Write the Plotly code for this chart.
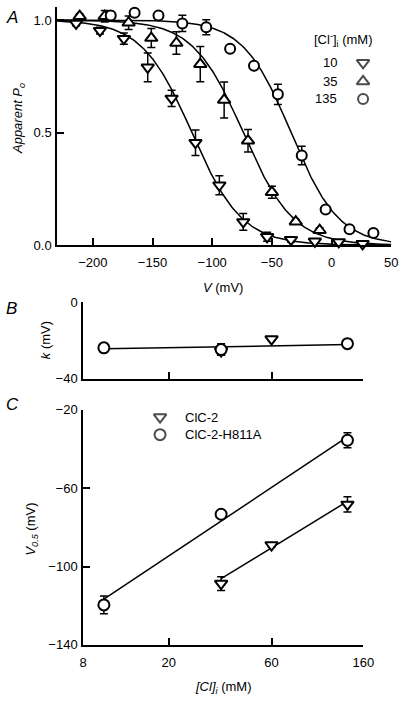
import numpy as np
import plotly.graph_objects as go

# ---------------- data ----------------
# Panel A: apparent Po vs V for three [Cl-]i
V_10 = [-214, -194, -174, -154, -134, -114, -94, -74, -54, -34, -14, 6, 26]
PO_10 = [0.985, 0.953, 0.917, 0.79, 0.652, 0.455, 0.266, 0.103, 0.037, 0.024, 0.017, 0.014, 0.006]
ERR_10 = [0.01, 0.015, 0.025, 0.064, 0.036, 0.057, 0.042, 0.037, 0.02, 0.01, 0.008, 0.008, 0.005]

V_35 = [-211, -190, -170, -151, -130, -110, -90, -70, -50, -30, -10]
PO_35 = [1.017, 1.017, 0.988, 0.92, 0.898, 0.804, 0.645, 0.464, 0.235, 0.104, 0.066]
ERR_35 = [0.01, 0.026, 0.03, 0.042, 0.05, 0.078, 0.08, 0.05, 0.027, 0.01, 0.01]

V_135 = [-185, -165, -145, -125, -105, -85, -65, -45, -25, -5, 15, 35]
PO_135 = [1.02, 1.032, 1.02, 0.985, 0.968, 0.872, 0.797, 0.67, 0.398, 0.158, 0.07, 0.054]
ERR_135 = [0, 0, 0, 0.036, 0.033, 0, 0, 0.045, 0.041, 0, 0, 0]

# Boltzmann fit parameters for the three curves (10, 35, 135 mM)
FIT_V05 = [-117, -74, -34]
FIT_SLOPE = [21, 21, 20]
CL_LABELS = ["10", "35", "135"]

# Panel B: slope factor k
B_CL_WT = [35, 60]
B_K_WT = [-25.5, -19.2]
B_KERR_WT = [2.0, 0.8]
B_CL_MUT = [10, 35, 135]
B_K_MUT = [-23.8, -24.7, -21.6]
B_KERR_MUT = [2.3, 3.0, 1.5]
B_FIT_X = [10, 135]
B_FIT_Y = [-24.3, -22.1]

# Panel C: V0.5
C_CL_WT = [35, 60, 135]
C_V_WT = [-108.7, -89.0, -68.3]
C_VERR_WT = [3.5, 1.0, 3.9]
C_CL_MUT = [10, 35, 135]
C_V_MUT = [-119.6, -73.3, -35.5]
C_VERR_MUT = [4.5, 0, 3.8]
C_FIT_WT_X = [35, 135]
C_FIT_WT_Y = [-106.2, -66.7]
C_FIT_MUT_X = [10, 135]
C_FIT_MUT_Y = [-116.7, -33.8]

LEGEND_C = ["ClC-2", "ClC-2-H811A"]

# ---------------- layout helpers ----------------
W, H = 410, 704
FONT = "Arial, Liberation Sans, sans-serif"


def px(x):
    return x / W


def py(y):
    return 1 - y / H


fig = go.Figure()

mk_line = dict(color="black", width=2)
eb = dict(type="data", color="black", thickness=1.5, width=4)

# ---- Panel A ----
vgrid = np.linspace(-230, 50, 300)
for v05, s in zip(FIT_V05, FIT_SLOPE):
    po = 1.0 / (1.0 + np.exp((vgrid - v05) / s))
    fig.add_trace(go.Scatter(x=vgrid, y=po, mode="lines", line=dict(color="black", width=1.5),
                             xaxis="x", yaxis="y", showlegend=False, hoverinfo="skip"))

for V, P, E, sym, sz in [(V_10, PO_10, ERR_10, "triangle-down", 11),
                         (V_35, PO_35, ERR_35, "triangle-up", 11),
                         (V_135, PO_135, ERR_135, "circle", 10)]:
    fig.add_trace(go.Scatter(x=V, y=P, mode="markers", error_y=dict(array=E, **eb),
                             marker=dict(symbol=sym, size=sz, color="white", line=mk_line),
                             xaxis="x", yaxis="y", showlegend=False, cliponaxis=False))

# ---- Panel B ----
fig.add_trace(go.Scatter(x=B_FIT_X, y=B_FIT_Y, mode="lines", line=dict(color="black", width=1.5),
                         xaxis="x2", yaxis="y2", showlegend=False))
fig.add_trace(go.Scatter(x=B_CL_WT, y=B_K_WT, mode="markers", error_y=dict(array=B_KERR_WT, **eb),
                         marker=dict(symbol="triangle-down", size=11, color="white", line=mk_line),
                         xaxis="x2", yaxis="y2", showlegend=False, cliponaxis=False))
fig.add_trace(go.Scatter(x=B_CL_MUT, y=B_K_MUT, mode="markers", error_y=dict(array=B_KERR_MUT, **eb),
                         marker=dict(symbol="circle", size=11, color="white", line=mk_line),
                         xaxis="x2", yaxis="y2", showlegend=False, cliponaxis=False))

# ---- Panel C ----
fig.add_trace(go.Scatter(x=C_FIT_MUT_X, y=C_FIT_MUT_Y, mode="lines", line=dict(color="black", width=1.5),
                         xaxis="x3", yaxis="y3", showlegend=False))
fig.add_trace(go.Scatter(x=C_FIT_WT_X, y=C_FIT_WT_Y, mode="lines", line=dict(color="black", width=1.5),
                         xaxis="x3", yaxis="y3", showlegend=False))
fig.add_trace(go.Scatter(x=C_CL_WT, y=C_V_WT, mode="markers", error_y=dict(array=C_VERR_WT, **eb),
                         marker=dict(symbol="triangle-down", size=11, color="white", line=mk_line),
                         xaxis="x3", yaxis="y3", showlegend=False, cliponaxis=False))
fig.add_trace(go.Scatter(x=C_CL_MUT, y=C_V_MUT, mode="markers", error_y=dict(array=C_VERR_MUT, **eb),
                         marker=dict(symbol="circle", size=11, color="white", line=mk_line),
                         xaxis="x3", yaxis="y3", showlegend=False, cliponaxis=False))

# ---- legend symbols on a full-page pixel axis ----
LEG_A_X = 372.7
LEG_A_Y = [57, 76, 94]
fig.add_trace(go.Scatter(x=[LEG_A_X] * 3, y=LEG_A_Y, mode="markers",
                         marker=dict(symbol=["triangle-down", "triangle-up", "circle"], size=[11, 11, 10],
                                     color="white", line=mk_line),
                         xaxis="x4", yaxis="y4", showlegend=False, hoverinfo="skip", cliponaxis=False))
LEG_C_X = 162
LEG_C_Y = [419, 437]
fig.add_trace(go.Scatter(x=[LEG_C_X] * 2, y=LEG_C_Y, mode="markers",
                         marker=dict(symbol=["triangle-down", "circle"], size=[11, 11],
                                     color="white", line=mk_line),
                         xaxis="x4", yaxis="y4", showlegend=False, hoverinfo="skip", cliponaxis=False))

axcommon = dict(showline=True, linecolor="black", linewidth=1.5, ticks="inside", ticklen=7,
                tickwidth=1.5, tickcolor="black", showgrid=False, zeroline=False,
                tickfont=dict(family=FONT, size=13, color="black"))
YSTAND = 1
XSTAND = 5

layout = dict(
    width=W, height=H, autosize=False,
    margin=dict(l=0, r=0, t=0, b=0),
    paper_bgcolor="white", plot_bgcolor="rgba(0,0,0,0)",
    font=dict(family=FONT, size=13, color="black"),
    xaxis=dict(domain=[px(55), px(402)], range=[-230, 50], anchor="y",
               tickvals=[-200, -150, -100, -50, 0, 50], ticklabelstandoff=XSTAND, **axcommon),
    yaxis=dict(domain=[py(243.3), 1.0], range=[0, 1.058], anchor="x",
               tickvals=[0, 0.5, 1.0], ticktext=["0.0", "0.5", "1.0"], ticklabelstandoff=YSTAND, **axcommon),
    xaxis2=dict(type="log", domain=[px(82), px(373)], range=[np.log10(8), np.log10(160)], anchor="y2",
                tickvals=[20, 60, 160], showticklabels=False, **axcommon),
    yaxis2=dict(domain=[py(380), py(301.7)], range=[-40, 0], anchor="x2",
                tickvals=[-40, 0], ticklabelstandoff=YSTAND, **axcommon),
    xaxis3=dict(type="log", domain=[px(82), px(373)], range=[np.log10(8), np.log10(160)], anchor="y3",
                tickvals=[8, 20, 60, 160], ticktext=["8", "20", "60", "160"], ticklabelstandoff=XSTAND,
                **axcommon),
    yaxis3=dict(domain=[py(651.7), py(411.7)], range=[-140, -20], anchor="x3",
                tickvals=[-140, -100, -60, -20], ticklabelstandoff=YSTAND, **axcommon),
    xaxis4=dict(domain=[0, 1], range=[0, W], visible=False, fixedrange=True, anchor="y4"),
    yaxis4=dict(domain=[0, 1], range=[H, 0], visible=False, fixedrange=True, anchor="x4"),
)
fig.update_layout(**layout)


def ann(x, y, text, size=13, xanchor="center", yanchor="middle", angle=0):
    fig.add_annotation(x=px(x), y=py(y), xref="paper", yref="paper", text=text, showarrow=False,
                       xanchor=xanchor, yanchor=yanchor, textangle=angle,
                       font=dict(family=FONT, size=size, color="black"))


ann(8, 11, "<i>A</i>", size=17)
ann(8, 308, "<i>B</i>", size=17)
ann(9, 406, "<i>C</i>", size=17)
ann(15, 114, "<i>Apparent P<sub>o</sub></i>", angle=-90)
ann(227, 287, "<i>V</i> (mV)")
ann(43, 340, "<i>k</i> (mV)", angle=-90)
ann(29, 533, "<i>V<sub>0.5</sub></i> (mV)", angle=-90)
ann(227, 695, "<i>[Cl]<sub>i</sub></i> (mM)")
ann(352, 34, "[Cl<sup>-</sup>]<sub>i</sub> (mM)")
for lab, yy in zip(CL_LABELS, LEG_A_Y):
    ann(348, yy, lab, xanchor="right")
for lab, yy in zip(LEGEND_C, LEG_C_Y):
    ann(186, yy, lab, xanchor="left")

# remove the default page margin so the figure fills the 410x704 window
PAGE_CSS = ("var s=document.createElement('style');"
            "s.textContent='html,body{margin:0!important;padding:0!important;overflow:hidden;}';"
            "document.head.appendChild(s);")
fig.write_html("out.html", config={"displayModeBar": False},
               post_script="}); " + PAGE_CSS + " (function(){")
